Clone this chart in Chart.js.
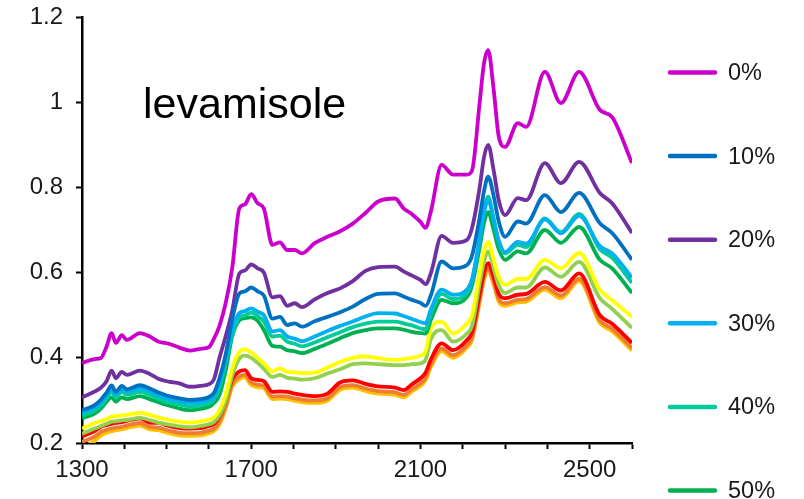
<!DOCTYPE html>
<html>
<head>
<meta charset="utf-8">
<style>
  html, body { margin: 0; padding: 0; background: #fff; }
  #wrap { width: 804px; height: 499px; position: relative; }
</style>
<script src="https://cdn.jsdelivr.net/npm/chart.js@4/dist/chart.umd.min.js"></script>
</head>
<body>
<div id="wrap"><canvas id="chart" width="804" height="499"></canvas></div>
<script>
// Wavelength (nm) at which each spectrum was read
const wavelengths = [
  1300, 1330, 1345, 1358, 1370, 1380, 1394, 1406, 1437, 1460,
  1480, 1505, 1530, 1555, 1580, 1600, 1612, 1625, 1640, 1655,
  1672, 1685, 1700, 1715, 1730, 1750, 1768, 1785, 1803, 1820,
  1850, 1880, 1910, 1940, 1970, 2000, 2040, 2060, 2080, 2100,
  2112, 2125, 2150, 2177, 2210, 2222, 2240, 2250, 2260, 2273,
  2285, 2300, 2330, 2350, 2394, 2432, 2475, 2524, 2553, 2600,
];

const seriesLabels = ['0%', '10%', '20%', '30%', '40%', '50%', '60%', '70%', '80%', '90%', '100%'];

const s0 = [
  0.388, 0.397, 0.400, 0.426, 0.458, 0.435, 0.453, 0.442, 0.458, 0.450,
  0.438, 0.433, 0.424, 0.417, 0.421, 0.425, 0.445, 0.475, 0.530, 0.610,
  0.751, 0.760, 0.784, 0.763, 0.750, 0.665, 0.671, 0.653, 0.653, 0.645,
  0.669, 0.684, 0.697, 0.715, 0.740, 0.767, 0.774, 0.751, 0.737, 0.719,
  0.705, 0.745, 0.853, 0.830, 0.830, 0.840, 1.000, 1.090, 1.122, 1.030,
  0.920, 0.895, 0.951, 0.942, 1.071, 0.998, 1.071, 0.982, 0.965, 0.857,
];
const s10 = [
  0.277, 0.289, 0.302, 0.318, 0.335, 0.320, 0.334, 0.326, 0.336, 0.328,
  0.319, 0.310, 0.305, 0.301, 0.303, 0.308, 0.318, 0.352, 0.410, 0.490,
  0.551, 0.556, 0.565, 0.556, 0.546, 0.492, 0.496, 0.477, 0.481, 0.473,
  0.486, 0.496, 0.507, 0.520, 0.538, 0.550, 0.551, 0.544, 0.536, 0.529,
  0.522, 0.548, 0.626, 0.610, 0.618, 0.640, 0.730, 0.790, 0.825, 0.780,
  0.720, 0.684, 0.720, 0.715, 0.782, 0.742, 0.787, 0.716, 0.693, 0.630,
];
const s20 = [
  0.307, 0.321, 0.330, 0.345, 0.370, 0.352, 0.367, 0.360, 0.370, 0.362,
  0.351, 0.344, 0.340, 0.332, 0.334, 0.338, 0.350, 0.400, 0.452, 0.510,
  0.598, 0.605, 0.619, 0.610, 0.600, 0.542, 0.545, 0.522, 0.528, 0.519,
  0.537, 0.552, 0.563, 0.580, 0.604, 0.613, 0.614, 0.603, 0.593, 0.583,
  0.573, 0.600, 0.686, 0.670, 0.677, 0.705, 0.800, 0.870, 0.900, 0.840,
  0.770, 0.735, 0.775, 0.770, 0.857, 0.810, 0.860, 0.787, 0.763, 0.693,
];
const s30 = [
  0.272, 0.283, 0.295, 0.312, 0.328, 0.314, 0.327, 0.320, 0.328, 0.321,
  0.312, 0.303, 0.298, 0.294, 0.296, 0.300, 0.310, 0.340, 0.400, 0.465,
  0.505, 0.510, 0.516, 0.508, 0.500, 0.462, 0.465, 0.450, 0.445, 0.439,
  0.450, 0.463, 0.475, 0.485, 0.497, 0.505, 0.504, 0.498, 0.491, 0.484,
  0.481, 0.515, 0.560, 0.548, 0.560, 0.585, 0.680, 0.740, 0.770, 0.725,
  0.675, 0.648, 0.672, 0.668, 0.725, 0.692, 0.733, 0.662, 0.645, 0.588,
];
const s40 = [
  0.265, 0.276, 0.288, 0.305, 0.320, 0.307, 0.320, 0.313, 0.320, 0.313,
  0.304, 0.295, 0.290, 0.286, 0.288, 0.293, 0.302, 0.330, 0.390, 0.455,
  0.495, 0.500, 0.506, 0.498, 0.485, 0.450, 0.452, 0.438, 0.433, 0.427,
  0.436, 0.448, 0.460, 0.472, 0.480, 0.485, 0.485, 0.481, 0.476, 0.469,
  0.467, 0.505, 0.550, 0.538, 0.552, 0.580, 0.680, 0.745, 0.778, 0.725,
  0.672, 0.645, 0.665, 0.660, 0.727, 0.695, 0.738, 0.655, 0.635, 0.576,
];
const s50 = [
  0.258, 0.269, 0.281, 0.297, 0.307, 0.297, 0.307, 0.303, 0.310, 0.303,
  0.296, 0.288, 0.281, 0.277, 0.280, 0.285, 0.294, 0.313, 0.372, 0.450,
  0.488, 0.493, 0.495, 0.487, 0.465, 0.428, 0.426, 0.418, 0.415, 0.411,
  0.421, 0.433, 0.446, 0.458, 0.465, 0.469, 0.469, 0.466, 0.461, 0.458,
  0.457, 0.490, 0.536, 0.528, 0.543, 0.570, 0.660, 0.715, 0.742, 0.700,
  0.655, 0.630, 0.650, 0.645, 0.700, 0.670, 0.707, 0.630, 0.610, 0.552,
];
const s60 = [
  0.234, 0.247, 0.252, 0.256, 0.262, 0.263, 0.265, 0.266, 0.271, 0.266,
  0.260, 0.254, 0.250, 0.248, 0.251, 0.255, 0.260, 0.277, 0.315, 0.375,
  0.414, 0.420, 0.413, 0.400, 0.387, 0.368, 0.375, 0.367, 0.366, 0.364,
  0.365, 0.377, 0.390, 0.400, 0.403, 0.399, 0.395, 0.397, 0.400, 0.405,
  0.415, 0.470, 0.485, 0.457, 0.481, 0.500, 0.600, 0.650, 0.672, 0.630,
  0.590, 0.571, 0.585, 0.585, 0.630, 0.610, 0.646, 0.560, 0.535, 0.496,
];
const s70 = [
  0.222, 0.234, 0.240, 0.245, 0.250, 0.251, 0.253, 0.254, 0.259, 0.254,
  0.248, 0.243, 0.239, 0.237, 0.240, 0.244, 0.249, 0.265, 0.300, 0.358,
  0.398, 0.405, 0.400, 0.388, 0.374, 0.355, 0.360, 0.353, 0.351, 0.349,
  0.352, 0.363, 0.373, 0.385, 0.387, 0.385, 0.383, 0.383, 0.385, 0.387,
  0.395, 0.445, 0.465, 0.438, 0.457, 0.475, 0.575, 0.625, 0.650, 0.610,
  0.570, 0.552, 0.565, 0.565, 0.612, 0.590, 0.625, 0.540, 0.515, 0.470,
];
const s80 = [
  0.216, 0.228, 0.238, 0.242, 0.245, 0.247, 0.249, 0.252, 0.258, 0.248,
  0.247, 0.240, 0.235, 0.234, 0.235, 0.240, 0.245, 0.262, 0.300, 0.350,
  0.368, 0.371, 0.352, 0.348, 0.345, 0.320, 0.321, 0.320, 0.316, 0.313,
  0.310, 0.316, 0.342, 0.347, 0.339, 0.333, 0.330, 0.324, 0.338, 0.352,
  0.365, 0.397, 0.434, 0.418, 0.442, 0.460, 0.550, 0.600, 0.622, 0.590,
  0.550, 0.540, 0.548, 0.550, 0.578, 0.558, 0.598, 0.500, 0.480, 0.435,
];
const s90 = [
  0.203, 0.215, 0.226, 0.231, 0.234, 0.236, 0.238, 0.241, 0.247, 0.238,
  0.236, 0.229, 0.224, 0.223, 0.224, 0.229, 0.234, 0.250, 0.288, 0.338,
  0.356, 0.360, 0.342, 0.337, 0.334, 0.309, 0.310, 0.309, 0.305, 0.302,
  0.300, 0.305, 0.331, 0.336, 0.328, 0.322, 0.319, 0.313, 0.327, 0.340,
  0.353, 0.385, 0.422, 0.406, 0.430, 0.448, 0.538, 0.588, 0.610, 0.578,
  0.538, 0.528, 0.536, 0.538, 0.566, 0.546, 0.586, 0.488, 0.468, 0.423,
];
const s100 = [
  0.188, 0.205, 0.218, 0.224, 0.228, 0.230, 0.232, 0.235, 0.241, 0.232,
  0.230, 0.223, 0.218, 0.217, 0.218, 0.223, 0.228, 0.244, 0.282, 0.332,
  0.350, 0.354, 0.336, 0.331, 0.328, 0.303, 0.304, 0.303, 0.299, 0.296,
  0.294, 0.299, 0.325, 0.330, 0.322, 0.316, 0.313, 0.307, 0.321, 0.334,
  0.347, 0.379, 0.416, 0.400, 0.424, 0.442, 0.532, 0.582, 0.604, 0.572,
  0.532, 0.522, 0.530, 0.532, 0.560, 0.540, 0.580, 0.482, 0.462, 0.417,
];

const seriesValues = [s0, s10, s20, s30, s40, s50, s60, s70, s80, s90, s100];

const COLORS = [
  '#cc00cc', '#0070c0', '#7030a0', '#00b0f0', '#00cc99', '#00b050',
  '#ffff00', '#92d050', '#ff0000', '#ed7d31', '#ffc000',
];

const FONT = "'Liberation Sans', Arial, sans-serif";

// ---------------------------------------------------------------------------
// Legend (right column, spaced like the original) + sample title
// ---------------------------------------------------------------------------

const sideLegend = {
  id: 'sideLegend',
  afterDraw(chart) {
    const { ctx } = chart;
    ctx.save();
    ctx.font = `23.5px ${FONT}`;
    ctx.textBaseline = 'middle';
    ctx.lineCap = 'round';
    chart.data.datasets.forEach((ds, i) => {
      const y = 72.5 + i * 83.6;
      ctx.strokeStyle = ds.borderColor;
      ctx.lineWidth = 4.5;
      ctx.beginPath();
      ctx.moveTo(670, y);
      ctx.lineTo(715, y);
      ctx.stroke();
      ctx.fillStyle = '#1a1a1a';
      ctx.fillText(ds.label, 728, y + 1);
    });

    ctx.font = `43px ${FONT}`;
    ctx.textBaseline = 'alphabetic';
    ctx.fillStyle = '#000';
    ctx.fillText('levamisole', 143, 118);
    ctx.restore();
  },
};

// ---------------------------------------------------------------------------
// Chart
// ---------------------------------------------------------------------------

const datasets = seriesValues.map((vals, i) => ({
  label: seriesLabels[i],
  data: wavelengths.map((w, j) => ({ x: w, y: vals[j] })),
  borderColor: COLORS[i],
  borderWidth: 3.8,
  pointRadius: 0,
  cubicInterpolationMode: 'monotone',
  fill: false,
}));

new Chart(document.getElementById('chart'), {
  type: 'line',
  data: { datasets },
  options: {
    responsive: false,
    animation: false,
    layout: { padding: { left: 0, right: 172, top: 17, bottom: 0 } },
    plugins: {
      legend: { display: false },
      tooltip: { enabled: false },
    },
    scales: {
      x: {
        type: 'linear',
        min: 1300,
        max: 2600,
        afterFit: (s) => {
          s.height = 499 - 443;
          s.paddingLeft = 0;
          s.paddingRight = 0;
        },
        border: { color: '#000', width: 2.5 },
        grid: { drawOnChartArea: false, tickLength: 6, tickColor: '#000', tickWidth: 2 },
        ticks: {
          stepSize: 100,
          autoSkip: false,
          maxRotation: 0,
          padding: 7,
          color: '#1a1a1a',
          font: { family: FONT, size: 24 },
          callback: (v) => ((v - 1300) % 400 === 0 ? String(v) : ''),
        },
      },
      y: {
        min: 0.2,
        max: 1.2,
        afterFit: (s) => {
          s.width = 82;
          s.paddingTop = 0;
          s.paddingBottom = 0;
        },
        border: { color: '#000', width: 2.5 },
        grid: { drawOnChartArea: false, tickLength: 6, tickColor: '#000', tickWidth: 2 },
        ticks: {
          stepSize: 0.2,
          padding: 13,
          color: '#1a1a1a',
          font: { family: FONT, size: 24 },
          callback: (v) => String(parseFloat(v.toFixed(1))),
        },
      },
    },
  },
  plugins: [sideLegend],
});
</script>
</body>
</html>
